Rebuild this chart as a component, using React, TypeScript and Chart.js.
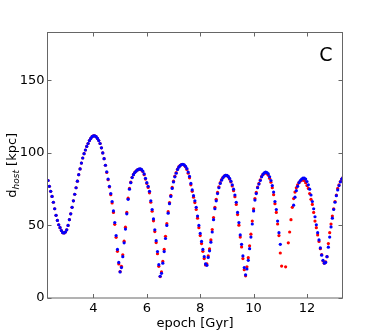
import React, { useEffect, useRef } from 'react';
import { Chart, registerables } from 'chart.js';

Chart.register(...registerables);

// ---- data ----
const EPOCH_START = 2.3; // Gyr, first sample
const EPOCH_STEP = 0.05; // Gyr between samples
const X_MIN = 2.28;
const X_MAX = 13.33;
const Y_MIN = 0;
const Y_MAX = 183;
const X_TICKS = [4, 6, 8, 10, 12];
const Y_TICKS = [0, 50, 100, 150];
const X_TITLE = 'epoch [Gyr]';
const Y_TITLE_MAIN = 'd';
const Y_TITLE_SUB = 'host';
const Y_TITLE_UNIT = ' [kpc]';
const PANEL_LABEL = 'C';

// d_host of the blue series, one value per sample (null = no point)
const BLUE_D: (number | null)[] = [
  81, 77, 73.5, 70, 66, 61.5, 57, 53.5, 50.5, 48.5,
  46.5, 45, 44.8, 45.5, 47, 50, 54, 58, 62.5, 67,
  71.5, 76, 80.5, 85, 89, 93, 96.5, 99.5, 102, 104.5,
  106.5, 108.5, 110, 111.2, 111.8, 111.8, 111.2, 110, 108.5, 106.5,
  103.5, 100, 96, 91.5, 87, 82, 77, 72, 66.5, 60,
  52, 43, 33.5, 24.5, 18, 21, 28.5, 38, 47.5, 58,
  68, 75, 79.5, 83, 85, 86.5, 87.5, 88.3, 88.8, 89,
  88.6, 87.5, 85.5, 82.5, 79.5, 77, 73.5, 67, 61, 54.5,
  47, 39.5, 32, 23, 15, 17, 24, 32, 41, 50,
  58.5, 65, 70, 75.5, 80, 83.5, 86, 88.5, 90.2, 91.3,
  92, 92.2, 91.8, 90.8, 89.2, 86.8, 83.8, 79, 74.5, 70.5,
  67, 62.5, 56.5, 50, 44.5, 39, 33.5, 28.5, 23.5, 22.5,
  28, 32.5, 38.5, 45.5, 54, 61.5, 67, 72, 76, 79,
  81.2, 82.8, 84, 84.6, 84.5, 83.8, 82.5, 80.5, 78, 75,
  71, 66, 59, 52, 43.5, 37, 29, 21, 16, 20,
  26, 34, 42, 51, 60, 67.5, 72, 76, 78.5, 81,
  83.5, 85.2, 86.3, 86.8, 86.5, 85.5, 83.5, 81, 77.5, 73,
  66.5, 61, 53, 45, 37, null, null, null, null, null,
  null, null, null, null, 64, 69.5, 74, 77, 79.5, 81,
  82, 82.6, 82.6, 82, 80.3, 78, 75, 71, 66.5, 61.5,
  56, 50.5, 45, 40, 34.5, 29.5, 26, 24, 24.5, 28.5,
  35, 42, 49, 55, 61, 66, 70.5, 74.5, 77.5, 80,
  82, 83,
];

// d_host of the red series, same samples
const RED_D: (number | null)[] = [
  81, 77, 73.5, 70, 66, 61.5, 57, 53.5, 50.5, 48.5,
  46.5, 45, 44.8, 45.5, 47, 50, 54, 58, 62.5, 67,
  71.5, 76, 80.5, 85, 89, 93, 96.5, 99.5, 102, 104.5,
  106.5, 108.5, 110, 111.2, 111.8, 111.8, 111.2, 110, 108.5, 106.5,
  103.5, 100, 96, 91.5, 86.5, 81.5, 76.5, 71.2, 65.5, 59,
  50.8, 41.8, 32.2, 23.5, 18.2, 21.8, 29.8, 39.2, 48.8, 59,
  68.8, 75.5, 79.8, 83.2, 85.2, 86.6, 87.6, 88.3, 88.7, 88.8,
  88.3, 87.2, 85, 82, 79, 76.2, 72.5, 66, 59.8, 53.2,
  45.8, 38.2, 30.5, 21.8, 14.8, 18, 25.2, 33.5, 42.5, 51.2,
  59.5, 65.8, 70.8, 76.2, 80.5, 84, 86.5, 88.8, 90.5, 91.4,
  92, 92, 91.5, 90.4, 88.6, 86, 82.8, 78, 73.5, 69.5,
  65.8, 61, 55, 48.5, 43, 37.5, 32.2, 27.2, 22.8, 23.5,
  29, 33.8, 40, 47.2, 55.5, 62.5, 68, 72.8, 76.6, 79.5,
  81.6, 83, 84.1, 84.5, 84.3, 83.5, 82, 80, 77.2, 74,
  69.8, 64.5, 57.5, 50.2, 42, 35.2, 27.2, 19.5, 15.3, 21.5,
  27.8, 36, 44, 53, 61.5, 68.5, 72.8, 76.5, 79, 81.5,
  83.8, 85.2, 86, 86.3, 85.8, 84.6, 82.5, 79.8, 76, 71.2,
  65, 59, 51, 43, 31, 22, null, null, 21.5, null,
  38, 45.5, 54, 62.5, 68.5, 73, 76, 78, 79.6, 80.6,
  81.2, 81.4, 81, 79.5, 77.5, 75.5, 72, 68, 64.5, 59,
  53, 48.5, 43.5, 39, 34, 30, 25.5, 24, 25, 28.5,
  37.5, 45, 51, 56.5, 61.5, 66.5, 71, 75.5, 78, 80.3,
  82, 83,
];

// ---- styling ----
const FONT = '"DejaVu Sans", "Liberation Sans", sans-serif';
const FRAME_COLOR = '#666666';
const TEXT_COLOR = '#000000';
const BLUE = '#0000ff';
const RED = '#ff0000';

const toPoints = (vals: (number | null)[]) =>
  vals
    .map((v, i) => ({ x: EPOCH_START + i * EPOCH_STEP, y: v }))
    .filter((p) => p.y !== null) as { x: number; y: number }[];

const framePlugin = {
  id: 'mplFrame',
  afterDraw(chart: any) {
    const { ctx, chartArea: a, scales } = chart;
    const xs = scales.x;
    const ys = scales.y;
    ctx.save();
    ctx.strokeStyle = FRAME_COLOR;
    ctx.lineWidth = 1;
    ctx.strokeRect(a.left, a.top, a.right - a.left, a.bottom - a.top);
    const TL = 4;
    ctx.beginPath();
    X_TICKS.forEach((v) => {
      const px = Math.round(xs.getPixelForValue(v)) + 0.5;
      ctx.moveTo(px, a.bottom);
      ctx.lineTo(px, a.bottom - TL);
      ctx.moveTo(px, a.top);
      ctx.lineTo(px, a.top + TL);
    });
    Y_TICKS.forEach((v) => {
      const py = Math.round(ys.getPixelForValue(v)) + 0.5;
      ctx.moveTo(a.left, py);
      ctx.lineTo(a.left + TL, py);
      ctx.moveTo(a.right, py);
      ctx.lineTo(a.right - TL, py);
    });
    ctx.stroke();

    ctx.fillStyle = TEXT_COLOR;
    // x title
    ctx.font = `13px ${FONT}`;
    ctx.textAlign = 'center';
    ctx.textBaseline = 'alphabetic';
    ctx.fillText(X_TITLE, (a.left + a.right) / 2, 327);

    // y title with subscript
    ctx.save();
    ctx.translate(15.5, (a.top + a.bottom) / 2);
    ctx.rotate(-Math.PI / 2);
    const mainFont = `13px ${FONT}`;
    const subFont = `italic 9px ${FONT}`;
    ctx.font = mainFont;
    const w1 = ctx.measureText(Y_TITLE_MAIN).width;
    const w3 = ctx.measureText(Y_TITLE_UNIT).width;
    ctx.font = subFont;
    const w2 = ctx.measureText(Y_TITLE_SUB).width;
    const x0 = -(w1 + w2 + w3) / 2;
    ctx.textAlign = 'left';
    ctx.font = mainFont;
    ctx.fillText(Y_TITLE_MAIN, x0, 0);
    ctx.font = subFont;
    ctx.fillText(Y_TITLE_SUB, x0 + w1, 3);
    ctx.font = mainFont;
    ctx.fillText(Y_TITLE_UNIT, x0 + w1 + w2, 0);
    ctx.restore();

    // panel label
    ctx.font = `19px ${FONT}`;
    ctx.textAlign = 'center';
    ctx.textBaseline = 'alphabetic';
    ctx.fillText(PANEL_LABEL, 326, 60.5);
    ctx.restore();
  },
};

export default function App() {
  const canvasRef = useRef<HTMLCanvasElement | null>(null);

  useEffect(() => {
    const canvas = canvasRef.current;
    if (!canvas) return;
    const chart = new Chart(canvas, {
      type: 'scatter',
      data: {
        datasets: [
          {
            label: 'blue',
            data: toPoints(BLUE_D),
            backgroundColor: BLUE,
            borderWidth: 0,
            pointRadius: 1.6,
            pointHoverRadius: 1.6,
          },
          {
            label: 'red',
            data: toPoints(RED_D),
            backgroundColor: RED,
            borderWidth: 0,
            pointRadius: 1.6,
            pointHoverRadius: 1.6,
          },
        ],
      },
      options: {
        responsive: false,
        animation: false,
        devicePixelRatio: 1,
        layout: { padding: { left: 0, right: 37.5, top: 32.5, bottom: 0 } },
        plugins: {
          legend: { display: false },
          tooltip: { enabled: false },
          title: { display: false },
        },
        scales: {
          x: {
            type: 'linear',
            min: X_MIN,
            max: X_MAX,
            grid: { display: false, drawTicks: false },
            border: { display: false },
            ticks: {
              color: TEXT_COLOR,
              font: { family: FONT, size: 13 },
              padding: 3,
              maxRotation: 0,
            },
            afterBuildTicks: (scale: any) => {
              scale.ticks = X_TICKS.map((v) => ({ value: v }));
            },
            afterFit: (scale: any) => {
              scale.height = 34;
            },
          },
          y: {
            type: 'linear',
            min: Y_MIN,
            max: Y_MAX,
            grid: { display: false, drawTicks: false },
            border: { display: false },
            ticks: {
              color: TEXT_COLOR,
              font: { family: FONT, size: 13 },
              padding: 3,
            },
            afterBuildTicks: (scale: any) => {
              scale.ticks = Y_TICKS.map((v) => ({ value: v }));
            },
            afterFit: (scale: any) => {
              scale.width = 47.5;
            },
          },
        },
      },
      plugins: [framePlugin],
    });
    return () => chart.destroy();
  }, []);

  return (
    <div style={{ position: 'absolute', left: 0, top: 0, width: 380, height: 332, background: '#fff' }}>
      <canvas ref={canvasRef} width={380} height={332} />
    </div>
  );
}
